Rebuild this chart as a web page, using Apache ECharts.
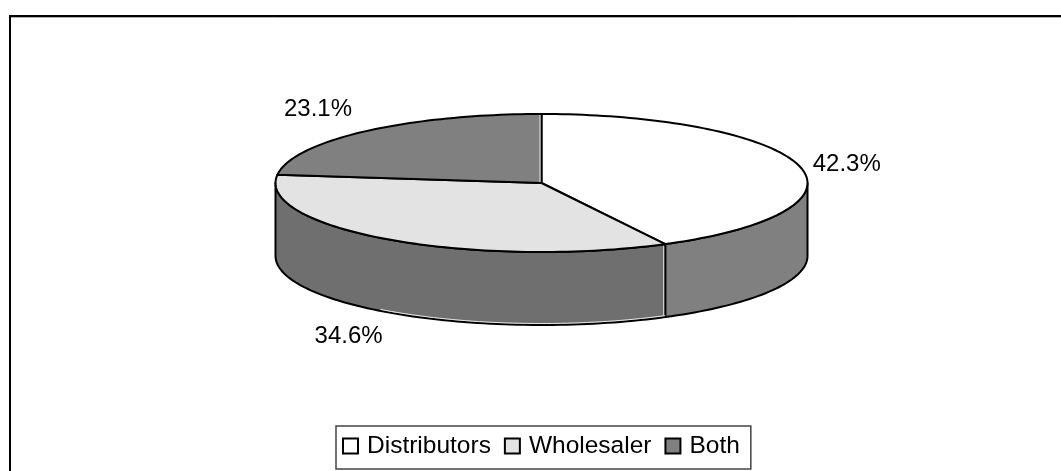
<!DOCTYPE html>
<html>
<head>
<meta charset="utf-8">
<style>html,body{margin:0;padding:0;background:#fff}#c{width:1061px;height:471px}</style>
<script src="https://cdn.jsdelivr.net/npm/echarts@6/dist/echarts.min.js"></script>
</head>
<body>
<div id="c"></div>
<script>
const categories = ['Distributors', 'Wholesaler', 'Both'];
const shares = [42.3, 34.6, 23.1];
const labels = ['42.3%', '34.6%', '23.1%'];
const topColours = ['#ffffff', '#e3e3e3', '#808080'];
const sideColours = ['#808080', '#6f6f6f', '#808080'];
const labelOffsets = [[47, -2], [-42, 97], [-47, -22]];

const pie = { cx: 541.5, cy: 183, rx: 266, ry: 69, depth: 73 };
const font = '24px "Liberation Sans", Arial, sans-serif';
const total = shares.reduce((a, b) => a + b, 0);

function pt(deg, drop) {
  const r = deg * Math.PI / 180;
  return [pie.cx + pie.rx * Math.sin(r), pie.cy - pie.ry * Math.cos(r) + (drop || 0)];
}
function arc(a, b, drop) {
  const out = [], n = Math.max(2, Math.ceil(Math.abs(b - a) / 1.5));
  for (let i = 0; i <= n; i++) out.push(pt(a + (b - a) * i / n, drop));
  return out;
}
function renderer(index) {
  return function (params, api) {
    const start = shares.slice(0, index).reduce((a, b) => a + b, 0) / total * 360;
    const end = start + api.value(0) / total * 360;
    const children = [];
    const s = Math.max(start, 90), e = Math.min(end, 270);
    const line = { stroke: '#000', lineWidth: 2, lineJoin: 'round' };
    const glow = { stroke: '#e8e8e8', lineWidth: 1, fill: null };
    if (e > s) {
      children.push({
        type: 'polygon',
        shape: { points: arc(s, e, 0).concat(arc(e, s, pie.depth)) },
        style: Object.assign({ fill: sideColours[index] }, line)
      });
    }
    children.push({
      type: 'polygon',
      shape: { points: [[pie.cx, pie.cy]].concat(arc(start, end, 0)) },
      style: Object.assign({ fill: topColours[index] }, line)
    });
    // pale halo beside the separators, as in the reference
    if (index === 1) {
      const a = pt(start, 2), b = pt(start, pie.depth - 2);
      children.push({ type: 'line', shape: { x1: a[0] - 1.5, y1: a[1], x2: b[0] - 1.5, y2: b[1] }, style: glow });
      children.push({ type: 'polyline', shape: { points: arc(start, start + 65, pie.depth - 1.5) }, style: glow });
    }
    if (index === 2) {
      children.push({ type: 'line', shape: { x1: pie.cx - 1.5, y1: pie.cy - pie.ry + 1, x2: pie.cx - 1.5, y2: pie.cy - 1 }, style: glow });
    }
    const mid = pt((start + end) / 2, 0);
    const off = labelOffsets[index];
    children.push({
      type: 'text',
      style: {
        x: mid[0] + off[0], y: mid[1] + off[1], text: labels[index],
        font: font, fill: '#000', align: 'center', verticalAlign: 'middle'
      }
    });
    return { type: 'group', children };
  };
}

const chart = echarts.init(document.getElementById('c'), null, { renderer: 'canvas' });
chart.setOption({
  animation: false,
  backgroundColor: '#fff',
  graphic: [
    { type: 'line', shape: { x1: 9, y1: 16, x2: 1061, y2: 16 }, style: { stroke: '#000', lineWidth: 2 } },
    { type: 'line', shape: { x1: 11, y1: 17.5, x2: 1061, y2: 17.5 }, style: { stroke: '#b0b0b0', lineWidth: 1 } },
    { type: 'line', shape: { x1: 10, y1: 15, x2: 10, y2: 471 }, style: { stroke: '#000', lineWidth: 2 } }
  ],
  legend: {
    left: 336, top: 426,
    data: categories,
    orient: 'horizontal',
    selectedMode: false,
    icon: 'rect',
    itemWidth: 15, itemHeight: 15, itemGap: 13,
    padding: [4, 11, 7, 6],
    backgroundColor: '#fff',
    borderColor: '#444', borderWidth: 1.5, borderRadius: 0,
    itemStyle: { borderColor: '#000', borderWidth: 2 },
    textStyle: { fontFamily: '"Liberation Sans", Arial, sans-serif', fontSize: 24.5, color: '#000', padding: [0, 0, 0, 4], lineHeight: 32 }
  },
  series: categories.map((name, i) => ({
    type: 'custom',
    name,
    coordinateSystem: 'none',
    silent: true,
    itemStyle: { color: topColours[i] },
    data: [[shares[i]]],
    renderItem: renderer(i)
  }))
});
</script>
</body>
</html>
